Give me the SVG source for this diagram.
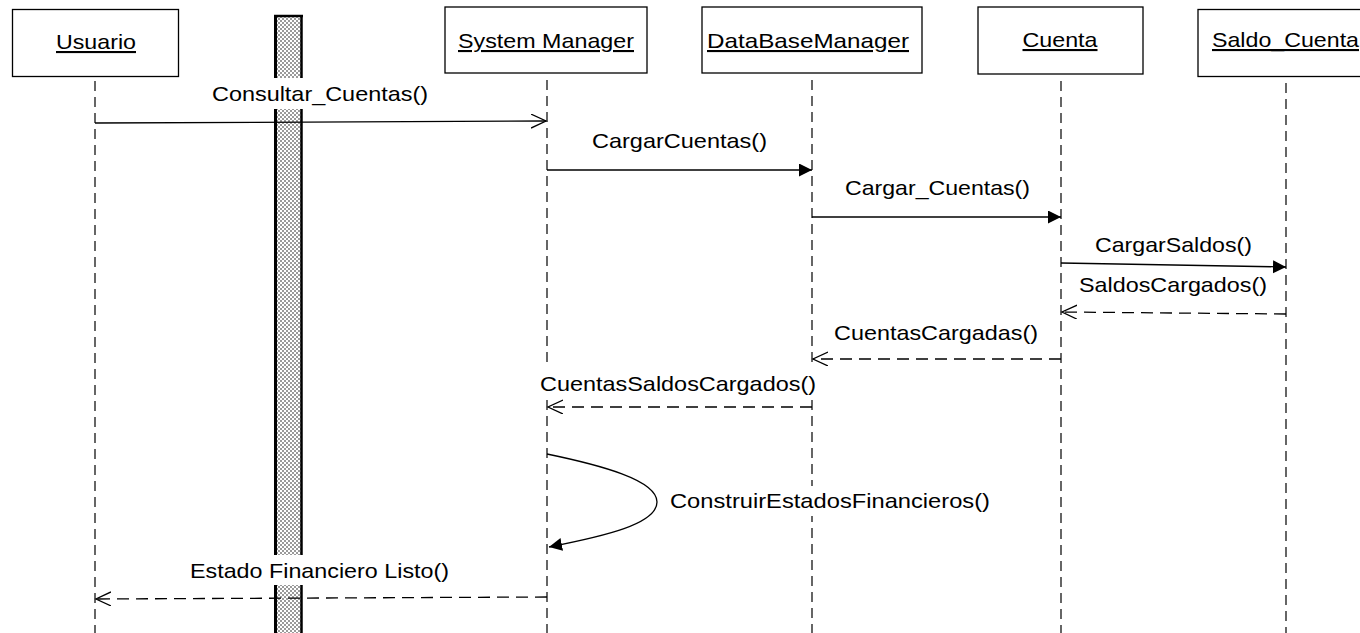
<svg xmlns="http://www.w3.org/2000/svg" width="1360" height="633" viewBox="0 0 1360 633">
  <style>
    .box { fill: #ffffff; stroke: #000000; stroke-width: 1.3; }
    .life { stroke: #000000; stroke-width: 1.2; stroke-dasharray: 10 6; fill: none; }
    .name { font-family: "Liberation Sans", Arial, sans-serif; font-size: 21px; fill: #000000; text-anchor: middle; text-decoration: underline; }
    .lbl { font-family: "Liberation Sans", Arial, sans-serif; font-size: 21px; fill: #000000; text-anchor: middle; }
    .lblbg { fill: #ffffff; stroke: none; }
    .call { stroke: #000000; stroke-width: 1.3; fill: none; marker-end: url(#solidHead); }
    .async { stroke: #000000; stroke-width: 1.3; fill: none; marker-end: url(#openHead); }
    .reply { stroke: #000000; stroke-width: 1.3; fill: none; stroke-dasharray: 12 7; marker-end: url(#openHead); }
  </style>
  <defs>
    <pattern id="checker" width="4" height="4" patternUnits="userSpaceOnUse">
      <rect width="4" height="4" fill="#ffffff"/>
      <rect x="0" y="0" width="2" height="2" fill="#9a9a9a"/>
      <rect x="2" y="2" width="2" height="2" fill="#9a9a9a"/>
    </pattern>
    <marker id="openHead" markerUnits="userSpaceOnUse" markerWidth="18" markerHeight="18" refX="15" refY="7" orient="auto">
      <path d="M0,0 L15,7 L0,14" fill="none" stroke="#000000" stroke-width="1.3"/>
    </marker>
    <marker id="solidHead" markerUnits="userSpaceOnUse" markerWidth="16" markerHeight="16" refX="13" refY="6.5" orient="auto">
      <path d="M0,0 L13,6.5 L0,13 z" fill="#000000"/>
    </marker>
  </defs>

  <rect width="1360" height="633" fill="#ffffff"/>

  <!-- activation bar -->
  <g id="activation">
    <rect x="275" y="16" width="26.5" height="620" fill="url(#checker)"/>
    <line x1="275.5" y1="15" x2="275.5" y2="633" stroke="#000000" stroke-width="3"/>
    <line x1="301.5" y1="15" x2="301.5" y2="633" stroke="#000000" stroke-width="2.5"/>
    <line x1="274" y1="16" x2="303" y2="16" stroke="#000000" stroke-width="2.5"/>
  </g>

  <!-- participants -->
  <g id="usuario">
    <rect class="box" x="12.5" y="9.5" width="166" height="67"/>
    <text class="name" x="96" y="49" textLength="80" lengthAdjust="spacingAndGlyphs">Usuario</text>
    <line class="life" x1="95" y1="81" x2="95" y2="633"/>
  </g>
  <g id="system-manager">
    <rect class="box" x="445" y="7" width="202" height="66"/>
    <text class="name" x="546" y="48" textLength="176" lengthAdjust="spacingAndGlyphs">System Manager</text>
    <line class="life" x1="547" y1="80" x2="547" y2="633"/>
  </g>
  <g id="database-manager">
    <rect class="box" x="702" y="7" width="220" height="66"/>
    <text class="name" x="808" y="48" textLength="202" lengthAdjust="spacingAndGlyphs">DataBaseManager</text>
    <line class="life" x1="812" y1="80" x2="812" y2="633"/>
  </g>
  <g id="cuenta">
    <rect class="box" x="978" y="7" width="165" height="67"/>
    <text class="name" x="1060" y="47" textLength="75" lengthAdjust="spacingAndGlyphs">Cuenta</text>
    <line class="life" x1="1061" y1="81" x2="1061" y2="633"/>
  </g>
  <g id="saldo-cuenta">
    <rect class="box" x="1198" y="9.5" width="200" height="67"/>
    <text class="name" x="1285.5" y="47" textLength="147" lengthAdjust="spacingAndGlyphs">Saldo_Cuenta</text>
    <line class="life" x1="1286" y1="83" x2="1286" y2="633"/>
  </g>

  <!-- messages -->
  <g id="connectors">
    <line class="async" x1="95" y1="123" x2="546" y2="121"/>
    <rect class="lblbg" x="210" y="78" width="220" height="31"/>
    <text class="lbl" x="320" y="101" textLength="216" lengthAdjust="spacingAndGlyphs">Consultar_Cuentas()</text>

    <line class="call" x1="547" y1="170" x2="812" y2="170"/>
    <rect class="lblbg" x="590" y="125" width="179" height="31"/>
    <text class="lbl" x="679.5" y="148" textLength="175" lengthAdjust="spacingAndGlyphs">CargarCuentas()</text>

    <line class="call" x1="812" y1="217" x2="1061" y2="217"/>
    <rect class="lblbg" x="843" y="172" width="189" height="31"/>
    <text class="lbl" x="937.5" y="195" textLength="185" lengthAdjust="spacingAndGlyphs">Cargar_Cuentas()</text>

    <line class="call" x1="1061" y1="263" x2="1286" y2="267"/>
    <rect class="lblbg" x="1093" y="229" width="161" height="31"/>
    <text class="lbl" x="1173.5" y="252" textLength="157" lengthAdjust="spacingAndGlyphs">CargarSaldos()</text>

    <line class="reply" x1="1286" y1="314" x2="1062" y2="312"/>
    <rect class="lblbg" x="1077" y="270" width="192" height="30"/>
    <text class="lbl" x="1173" y="292" textLength="188" lengthAdjust="spacingAndGlyphs">SaldosCargados()</text>

    <line class="reply" x1="1061" y1="359" x2="813" y2="359"/>
    <rect class="lblbg" x="832" y="317" width="208" height="31"/>
    <text class="lbl" x="936" y="340" textLength="204" lengthAdjust="spacingAndGlyphs">CuentasCargadas()</text>

    <line class="reply" x1="812" y1="407" x2="548" y2="407"/>
    <rect class="lblbg" x="538" y="368" width="280" height="31"/>
    <text class="lbl" x="678" y="391" textLength="276" lengthAdjust="spacingAndGlyphs">CuentasSaldosCargados()</text>

    <path class="call" d="M547,454 C600,465 657,480 657,502 C657,524 605,536 549,547"/>
    <rect class="lblbg" x="668" y="486" width="324" height="30"/>
    <text class="lbl" x="830" y="508" textLength="320" lengthAdjust="spacingAndGlyphs">ConstruirEstadosFinancieros()</text>

    <line class="reply" x1="547" y1="597" x2="96" y2="599"/>
    <rect class="lblbg" x="188" y="555" width="263" height="30"/>
    <text class="lbl" x="319.5" y="578" textLength="259" lengthAdjust="spacingAndGlyphs">Estado Financiero Listo()</text>
  </g>
</svg>
